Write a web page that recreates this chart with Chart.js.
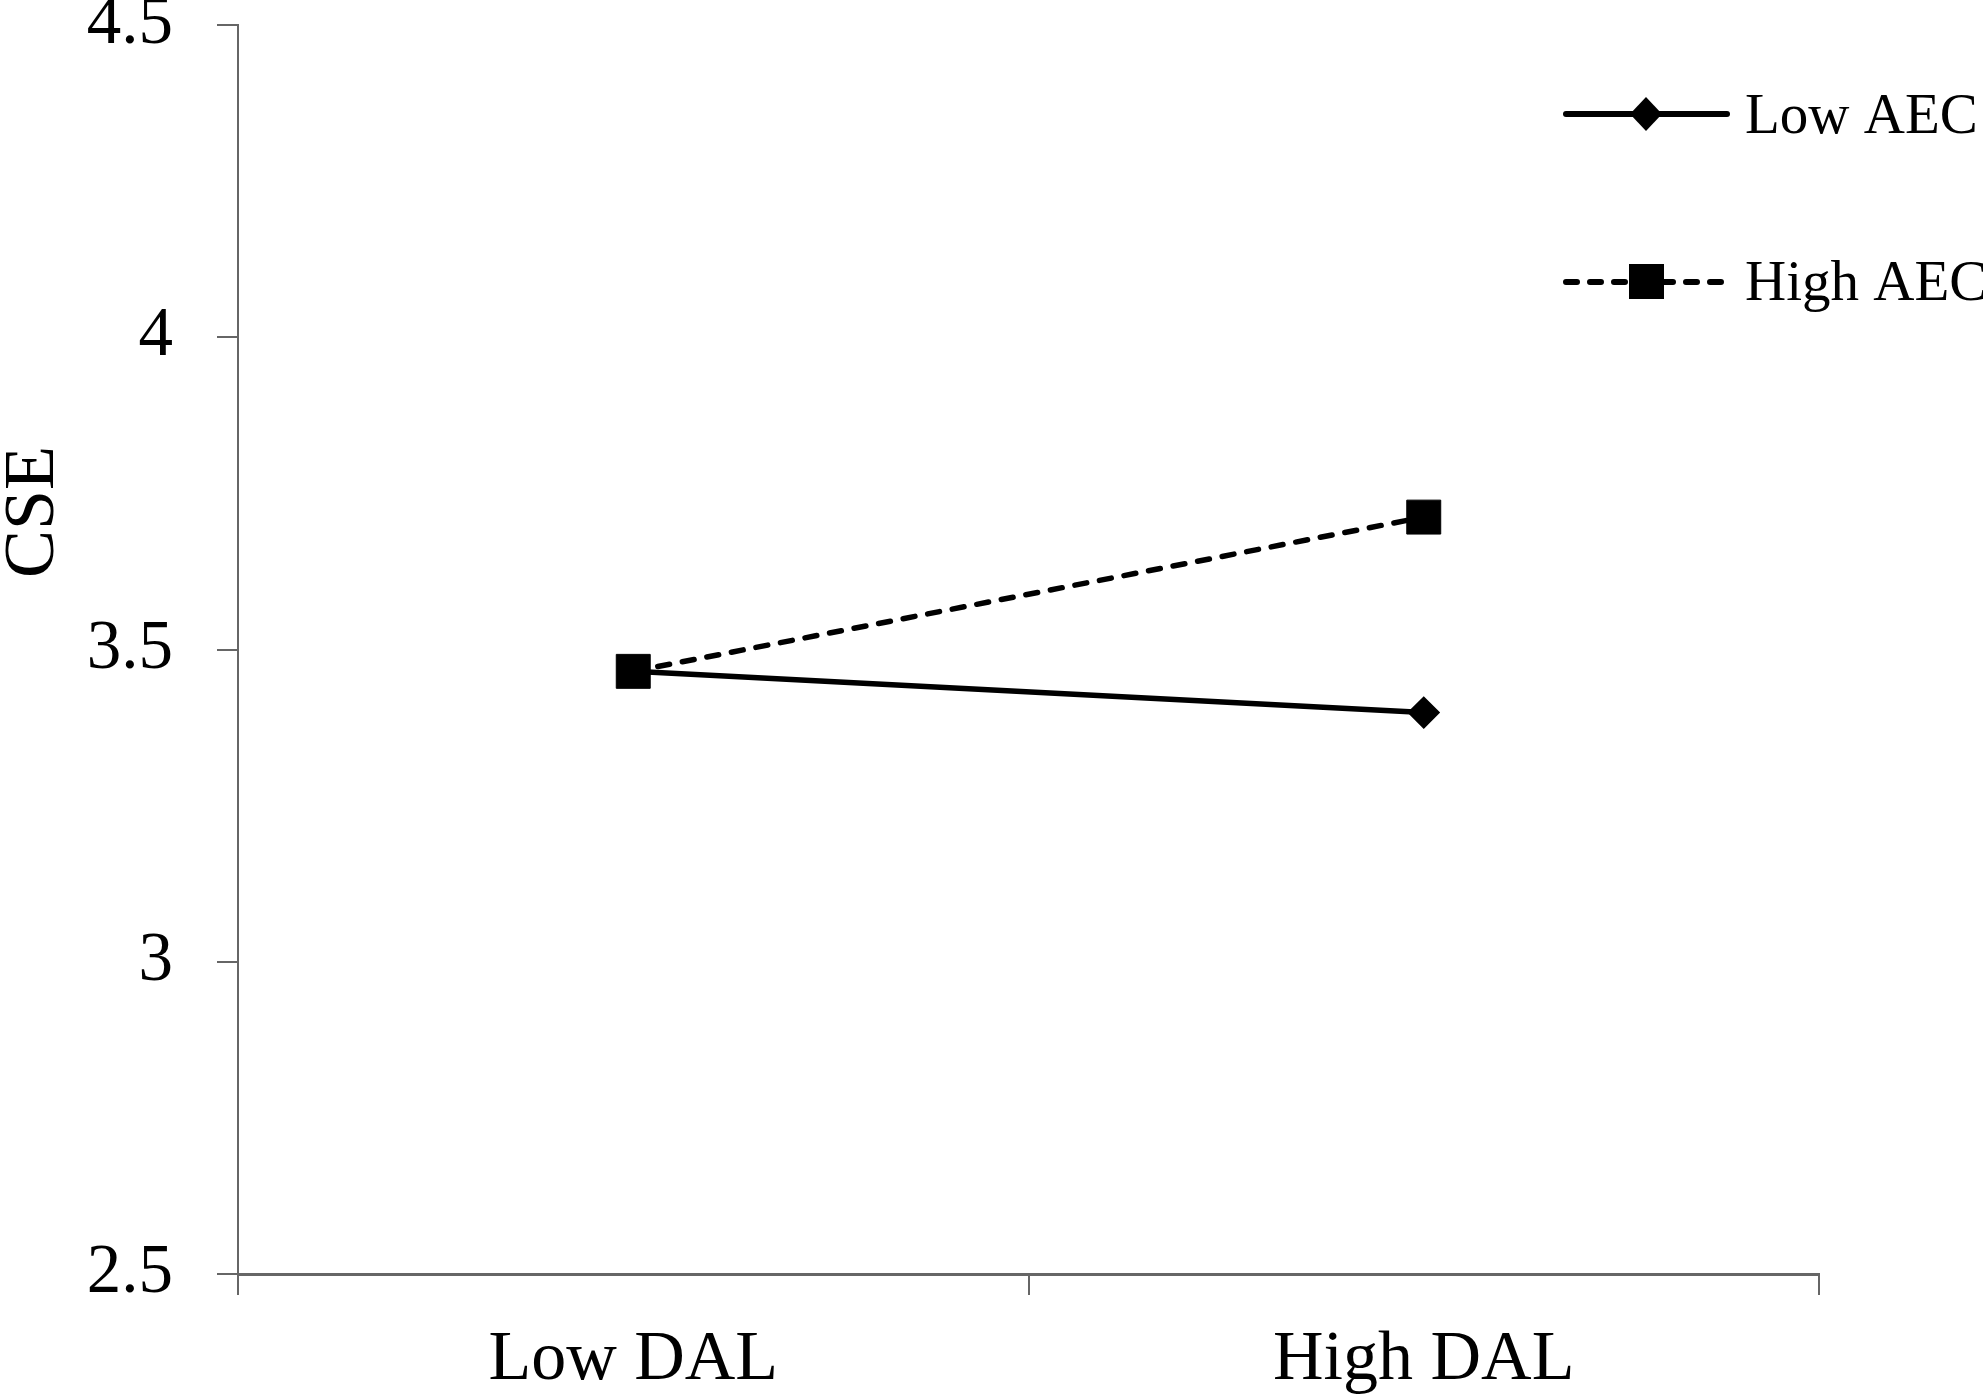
<!DOCTYPE html>
<html>
<head>
<meta charset="utf-8">
<script src="https://cdn.jsdelivr.net/npm/chart.js@4/dist/chart.umd.min.js"></script>
<style>
  html, body { margin: 0; padding: 0; background: #fff; }
  #wrap { width: 1983px; height: 1398px; position: relative; }
</style>
</head>
<body>
<div id="wrap"><canvas id="cseChart"></canvas></div>
<script>
// values
const categories = ['Low DAL', 'High DAL'];
const lowAEC = [3.465, 3.399];
const highAEC = [3.465, 3.712];
const yTicks = [2.5, 3, 3.5, 4, 4.5];
const seriesNames = ['Low AEC', 'High AEC'];
const yTitle = 'CSE';

const SERIF = '"Liberation Serif", "Times New Roman", serif';
const AXIS = '#666';

// y title sits above the middle of the axis, so draw it by hand
const yTitlePlugin = {
    id: 'yTitle',
    afterDraw(chart) {
        const c = chart.ctx;
        c.save();
        c.translate(53, 512);
        c.rotate(-Math.PI / 2);
        c.font = '72px ' + SERIF;
        c.fillStyle = '#000';
        c.textAlign = 'center';
        c.textBaseline = 'alphabetic';
        c.fillText(yTitle, 0, 0);
        c.restore();
    }
};

// legend: two stacked rows in the top right corner
const sideLegend = {
    id: 'sideLegend',
    afterDraw(chart) {
        const c = chart.ctx;
        const rows = [
            { y: 114, base: 133, dash: [], shape: 'diamond' },
            { y: 282, base: 300, dash: [11, 13], shape: 'square' }
        ];
        rows.forEach((r, i) => {
            c.save();
            c.strokeStyle = '#000';
            c.fillStyle = '#000';
            c.lineWidth = 6;
            c.lineCap = 'round';
            c.setLineDash(r.dash);
            c.beginPath();
            c.moveTo(1566, r.y);
            c.lineTo(1727, r.y);
            c.stroke();
            c.setLineDash([]);
            if (r.shape === 'diamond') {
                c.beginPath();
                c.moveTo(1630, r.y);
                c.lineTo(1646, r.y - 17);
                c.lineTo(1662, r.y);
                c.lineTo(1646, r.y + 17);
                c.closePath();
                c.fill();
            } else {
                c.fillRect(1629, r.y - 18, 35, 35);
            }
            c.font = '57px ' + SERIF;
            c.textAlign = 'left';
            c.textBaseline = 'alphabetic';
            c.fillText(seriesNames[i], 1745, r.base);
            c.restore();
        });
    }
};

const chart = new Chart(document.getElementById('cseChart'), {
    type: 'line',
    data: {
        labels: categories,
        datasets: [{
            label: seriesNames[0],
            data: lowAEC,
            borderColor: '#000',
            backgroundColor: '#000',
            borderWidth: 5.5,
            pointStyle: 'rectRot',
            pointRadius: 15,
            pointBorderWidth: 2,
            tension: 0,
            order: 1
        }, {
            label: seriesNames[1],
            data: highAEC,
            borderColor: '#000',
            backgroundColor: '#000',
            borderWidth: 5.5,
            borderDash: [12, 13],
            borderCapStyle: 'round',
            pointStyle: 'rect',
            pointRadius: 24,
            pointBorderWidth: 1,
            tension: 0,
            order: 0
        }]
    },
    options: {
        responsive: true,
        maintainAspectRatio: false,
        animation: false,
        devicePixelRatio: 1,
        layout: { padding: { top: 25, right: 164, left: 0, bottom: 0 } },
        plugins: {
            legend: { display: false },
            tooltip: { enabled: false }
        },
        scales: {
            x: {
                type: 'category',
                offset: true,
                grid: {
                    offset: true,
                    drawOnChartArea: false,
                    drawTicks: true,
                    tickLength: 21,
                    color: AXIS,
                    lineWidth: 2
                },
                border: { color: AXIS, width: 3 },
                ticks: {
                    color: '#000',
                    font: { family: SERIF, size: 70 },
                    padding: 24,
                    maxRotation: 0
                },
                afterFit(scale) {
                    scale.height = 124;
                    scale.paddingLeft = 0;
                    scale.paddingRight = 0;
                }
            },
            y: {
                min: 2.5,
                max: 4.5,
                afterBuildTicks(scale) {
                    scale.ticks = yTicks.map(v => ({ value: v }));
                },
                grid: {
                    drawOnChartArea: false,
                    drawTicks: true,
                    tickLength: 21,
                    color: AXIS,
                    lineWidth: 2
                },
                border: { color: AXIS, width: 2 },
                ticks: {
                    color: '#000',
                    font: { family: SERIF, size: 69 },
                    padding: 44,
                    callback: v => String(v)
                },
                afterFit(scale) {
                    scale.width = 238;
                    scale.paddingTop = 0;
                    scale.paddingBottom = 0;
                }
            }
        }
    },
    plugins: [yTitlePlugin, sideLegend]
});
</script>
</body>
</html>
